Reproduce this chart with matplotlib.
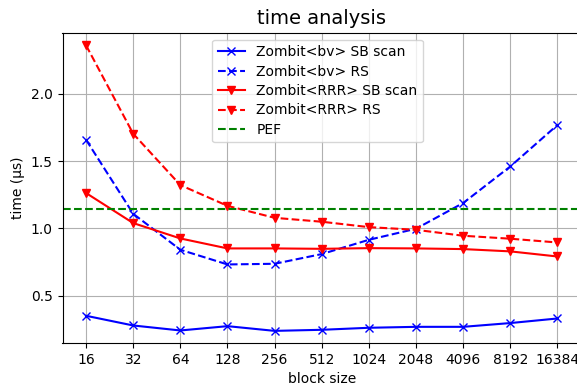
import matplotlib
matplotlib.use("Agg")
import matplotlib.pyplot as plt

block_sizes = ["16", "32", "64", "128", "256", "512", "1024", "2048", "4096", "8192", "16384"]
bv_sb_scan = [0.352, 0.280, 0.243, 0.275, 0.240, 0.248, 0.263, 0.270, 0.270, 0.298, 0.332]
bv_rs = [1.658, 1.109, 0.842, 0.733, 0.738, 0.810, 0.916, 0.998, 1.189, 1.460, 1.768]
rrr_sb_scan = [1.263, 1.040, 0.926, 0.852, 0.852, 0.849, 0.854, 0.852, 0.847, 0.830, 0.792]
rrr_rs = [2.359, 1.703, 1.322, 1.168, 1.079, 1.050, 1.010, 0.990, 0.946, 0.924, 0.896]
pef = 1.144

W, H = 577, 386
fig = plt.figure(figsize=(W / 100, H / 100), dpi=100)
left, right, bottom, top = 62.5, 581, 343, 32.7
ax = fig.add_axes([left / W, 1 - bottom / H, (right - left) / W, (bottom - top) / H])

x = list(range(len(block_sizes)))
ax.plot(x, bv_sb_scan, color="blue", marker="x", linestyle="-", label="Zombit<bv> SB scan")
ax.plot(x, bv_rs, color="blue", marker="x", linestyle="--", label="Zombit<bv> RS")
ax.plot(x, rrr_sb_scan, color="red", marker="v", linestyle="-", label="Zombit<RRR> SB scan")
ax.plot(x, rrr_rs, color="red", marker="v", linestyle="--", label="Zombit<RRR> RS")
ax.axhline(pef, color="green", linestyle="--", label="PEF")

ax.set_xticks(x)
ax.set_xticklabels(block_sizes)
ax.set_xlim(-0.5, len(block_sizes) - 0.5)
ax.set_ylim(0.15, 2.453)
ax.set_yticks([0.5, 1.0, 1.5, 2.0])
ax.grid(True)
ax.set_xlabel("block size")
ax.set_ylabel("time (µs)")
ax.set_title("time analysis", fontsize=14)
ax.legend(loc="upper center", fontsize=10, labelspacing=0.39,
          bbox_to_anchor=(0.492, 1.0))

fig.savefig("out.png", dpi=100)
